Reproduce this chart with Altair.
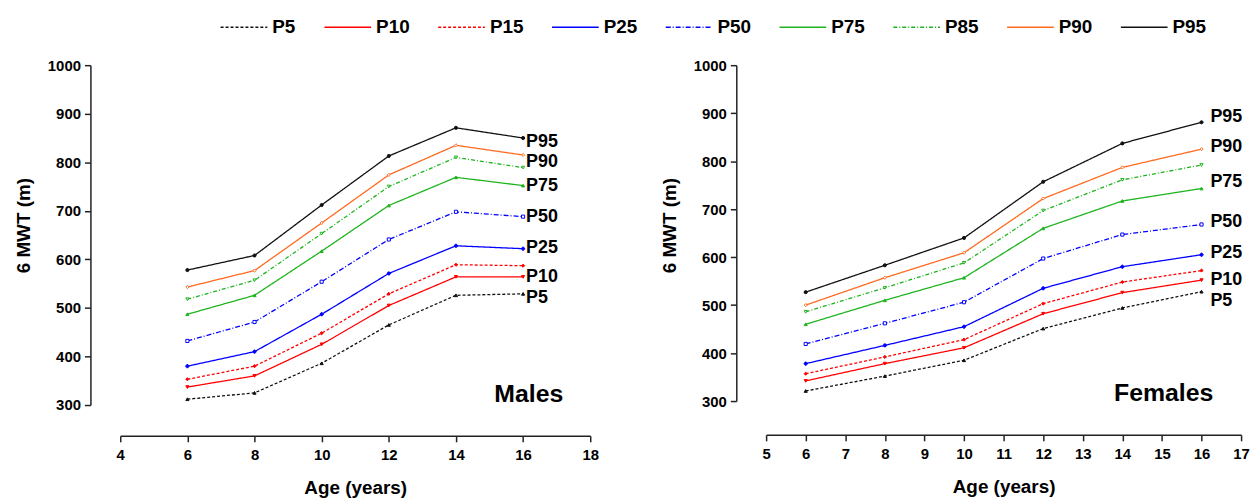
import altair as alt
import pandas as pd

# ---------------- data ----------------
ages = [6, 8, 10, 12, 14, 16]
series = ["P5", "P10", "P15", "P25", "P50", "P75", "P85", "P90", "P95"]
labelled = ["P5", "P10", "P25", "P50", "P75", "P90", "P95"]

males_p5 = [312, 325, 386, 465, 526, 529]
males_p10 = [337, 360, 425, 505, 564, 564]
males_p15 = [353, 380, 448, 529, 589, 587]
males_p25 = [380, 410, 487, 571, 628, 622]
males_p50 = [432, 471, 554, 641, 698, 688]
males_p75 = [487, 526, 617, 711, 769, 752]
males_p85 = [518, 557, 653, 750, 810, 789]
males_p90 = [543, 577, 675, 774, 835, 815]
males_p95 = [578, 608, 712, 813, 871, 850]

females_p5 = [321, 352, 385, 451, 494, 528]
females_p10 = [342, 378, 411, 482, 526, 552]
females_p15 = [357, 392, 428, 503, 548, 572]
females_p25 = [378, 416, 455, 535, 580, 605]
females_p50 = [419, 462, 506, 597, 647, 668]
females_p75 = [460, 510, 557, 660, 717, 743]
females_p85 = [486, 536, 588, 697, 761, 792]
females_p90 = [500, 557, 609, 722, 787, 825]
females_p95 = [527, 583, 640, 757, 837, 881]

male_ticks_x = [4, 6, 8, 10, 12, 14, 16, 18]
female_ticks_x = [5, 6, 7, 8, 9, 10, 11, 12, 13, 14, 15, 16, 17]
ticks_y = [300, 400, 500, 600, 700, 800, 900, 1000]

# panel captions (data coordinates)
male_caption = ("Males", 17.2, 322)
female_caption = ("Females", 16.3, 316)

# ---------------- styles ----------------
colors = ["#111111", "#FF0000", "#FF0000", "#0000FF", "#0000FF",
          "#1FB41F", "#1FB41F", "#FF6A1F", "#111111"]
dashes = [[3, 2], [1, 0], [3, 2], [1, 0], [5, 2, 1, 2],
          [1, 0], [4, 2, 1, 2], [1, 0], [1, 0]]
shapes = ["triangle-up", "triangle-down", "diamond", "cross", "square",
          "triangle-up", "triangle-down", "diamond", "circle"]
fills = ["#111111", "#FF0000", "#FF0000", "#0000FF", "white",
         "#1FB41F", "white", "white", "#111111"]
FONT = "Liberation Sans"

# pixel nudges of the end labels (positive = down)
male_nudge = {"P95": 3.7, "P90": 7.3, "P75": 0.8, "P50": 0, "P25": -0.7, "P10": 0, "P5": 4}
female_nudge = {"P95": -5.5, "P90": -2, "P75": -7, "P50": -2, "P25": -1.5, "P10": -0.5, "P5": 9.5}


def build_df(cols):
    rows = []
    for s, vals in zip(series, cols):
        for a, v in zip(ages, vals):
            rows.append({"age": a, "value": v, "series": s})
    return pd.DataFrame(rows)


males = build_df([males_p5, males_p10, males_p15, males_p25, males_p50,
                  males_p75, males_p85, males_p90, males_p95])
females = build_df([females_p5, females_p10, females_p15, females_p25, females_p50,
                    females_p75, females_p85, females_p90, females_p95])


def panel(df, xdomain, xticks, width, height, xoff, yoff, caption, nudge, label_dx, legend):
    xs = alt.Scale(domain=xdomain, nice=False, zero=False)
    ys = alt.Scale(domain=[300, 1000], nice=False, zero=False)
    x = alt.X("age:Q", scale=xs, axis=alt.Axis(values=xticks, offset=xoff, title="Age (years)",
                                                 grid=False, labelFlush=False, labelPadding=6,
                                                 labelOverlap=False, labelSeparation=0,
                                                 labelBound=False, tickCount=len(xticks),
                                                 titlePadding=16, format="d"))
    y = alt.Y("value:Q", scale=ys, axis=alt.Axis(values=ticks_y, offset=yoff, title="6 MWT (m)",
                                                   grid=False, labelPadding=4, titleX=-67,
                                                   titleY=161, titleBaseline="middle",
                                                   labelOverlap=False, format="d"))
    color = alt.Color("series:N", scale=alt.Scale(domain=series, range=colors), legend=legend)
    dash = alt.StrokeDash("series:N", scale=alt.Scale(domain=series, range=dashes), legend=legend)
    lines = alt.Chart(df).mark_line(strokeWidth=1.3).encode(
        x=x, y=y, color=color, strokeDash=dash, order="age:Q")
    pts = alt.Chart(df).mark_point(size=10, strokeWidth=1, opacity=1).encode(
        x=alt.X("age:Q", scale=xs), y=alt.Y("value:Q", scale=ys),
        stroke=alt.Stroke("series:N", scale=alt.Scale(domain=series, range=colors), legend=None),
        fill=alt.Fill("series:N", scale=alt.Scale(domain=series, range=fills), legend=None),
        shape=alt.Shape("series:N", scale=alt.Scale(domain=series, range=shapes), legend=None),
    )
    px_per_unit = height / 700.0
    last = df[df["age"] == ages[-1]]
    lab = last[last["series"].isin(labelled)].copy()
    lab["value"] = lab["value"] - lab["series"].map(nudge) / px_per_unit
    labels = alt.Chart(lab).mark_text(align="left", baseline="middle", dx=label_dx, fontSize=18,
                                      fontWeight="bold", font=FONT, color="black").encode(
        x=alt.X("age:Q", scale=xs), y=alt.Y("value:Q", scale=ys), text="series:N")
    cap = pd.DataFrame({"age": [caption[1]], "value": [caption[2]], "txt": [caption[0]]})
    capt = alt.Chart(cap).mark_text(align="right", baseline="middle", fontSize=25,
                                    fontWeight="bold", font=FONT, color="black").encode(
        x=alt.X("age:Q", scale=xs), y=alt.Y("value:Q", scale=ys), text="txt:N")
    return alt.layer(lines, pts, labels, capt).properties(width=width, height=height)


legend = alt.Legend(orient="none", legendX=100, legendY=-63, direction="horizontal", title=None,
                    columns=9, symbolType="stroke", symbolSize=2209, symbolStrokeWidth=1.5,
                    labelFontSize=19, labelFont=FONT, labelFontWeight="bold", labelColor="black",
                    columnPadding=25.5, labelOffset=4)

left = panel(males, [4, 18], male_ticks_x, 473, 342, 31, 30, male_caption, male_nudge, 3, legend)
right = panel(females, [5, 17], female_ticks_x, 478, 338, 34, 30, female_caption, female_nudge, 9, None)

chart = alt.hconcat(left, right, spacing=177, bounds="flush").resolve_scale(
    color="independent", strokeDash="independent", x="independent", y="independent"
).configure_view(stroke=None).configure_axis(
    labelFont=FONT, labelFontSize=15, labelFontWeight="bold", labelColor="black",
    titleFont=FONT, titleFontSize=19, titleFontWeight="bold", titleColor="black",
    domainColor="#222222", domainWidth=1.5, tickColor="#222222", tickWidth=1.5, tickSize=6,
    labelOverlap=False
).properties(padding={"left": 15, "top": 1, "right": 5, "bottom": 5}, background="white")

chart.save("out.html", embed_options={"renderer": "svg", "actions": False})
